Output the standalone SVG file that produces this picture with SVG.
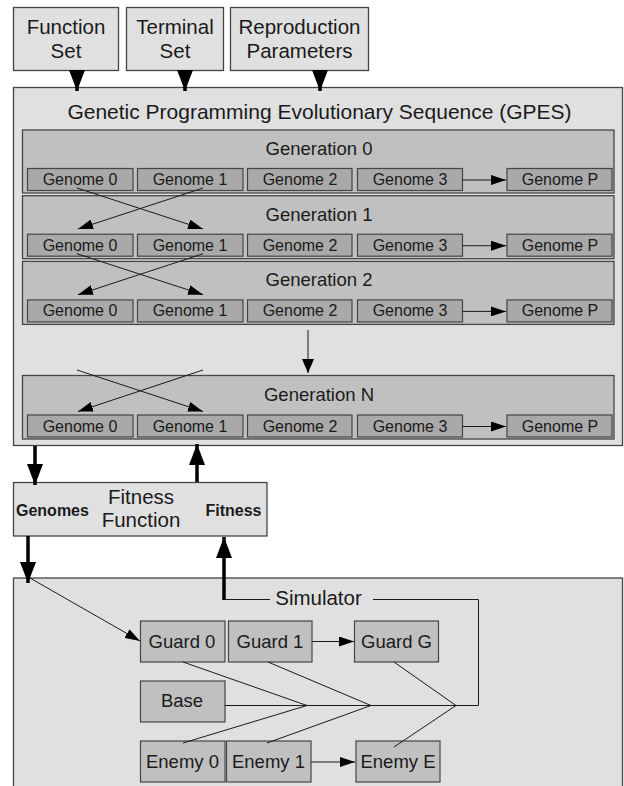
<svg xmlns="http://www.w3.org/2000/svg" width="624" height="786" viewBox="0 0 624 786">
<style>
text{font-family:"Liberation Sans",Arial,sans-serif;fill:#1a1a1a}
.big{font-size:20.5px;text-anchor:middle}
.title{font-size:21px;text-anchor:middle}
.gen{font-size:18.5px;text-anchor:middle}
.gn{font-size:16px;text-anchor:middle}
.bx{font-size:18.5px;text-anchor:middle}
.bold{font-size:16px;font-weight:bold}
.outer{fill:#e0e0e0;stroke:#454545;stroke-width:1.3}
.genbox{fill:#c0c0c0;stroke:#454545;stroke-width:1.3}
.gnbox{fill:#a9a9a9;stroke:#454545;stroke-width:1.2}
.node{fill:#c0c0c0;stroke:#454545;stroke-width:1.2}
.thin{stroke:#1a1a1a;stroke-width:1;fill:none}
.thick{stroke:#000;stroke-width:3.5;fill:none}
</style>
<defs>
<marker id="sa" markerUnits="userSpaceOnUse" markerWidth="16" markerHeight="10" refX="15" refY="5" orient="auto"><path d="M0,0 L15,5 L0,10 z" fill="#000"/></marker>
<marker id="ba" markerUnits="userSpaceOnUse" markerWidth="22" markerHeight="16" refX="21" refY="8" orient="auto"><path d="M0,0 L21,8 L0,16 z" fill="#000"/></marker>
<marker id="ma" markerUnits="userSpaceOnUse" markerWidth="15" markerHeight="12" refX="14" refY="6" orient="auto"><path d="M0,0 L14,6 L0,12 z" fill="#000"/></marker>
</defs>

<g id="function-set"><rect class="outer" x="13.5" y="7.5" width="105" height="63"/><text class="big" x="66" y="34">Function</text><text class="big" x="66" y="58">Set</text></g>
<g id="terminal-set"><rect class="outer" x="126.5" y="7.5" width="97" height="63"/><text class="big" x="175" y="34">Terminal</text><text class="big" x="175" y="58">Set</text></g>
<g id="reproduction-parameters"><rect class="outer" x="230.5" y="7.5" width="138" height="63"/><text class="big" x="299.5" y="34">Reproduction</text><text class="big" x="299.5" y="58">Parameters</text></g>

<g id="gpes">
<rect class="outer" x="13.5" y="87.5" width="609" height="358"/>
<text class="title" x="319.5" y="119">Genetic Programming Evolutionary Sequence (GPES)</text>
</g>

<g id="generation-0">
<rect class="genbox" x="22.5" y="130" width="591.5" height="63"/>
<text class="gen" x="319" y="155">Generation 0</text>
<rect class="gnbox" x="27.5" y="168.5" width="105.5" height="22"/><text class="gn" x="80" y="185">Genome 0</text>
<rect class="gnbox" x="137.5" y="168.5" width="105.5" height="22"/><text class="gn" x="190" y="185">Genome 1</text>
<rect class="gnbox" x="247.5" y="168.5" width="104.5" height="22"/><text class="gn" x="300" y="185">Genome 2</text>
<rect class="gnbox" x="357.5" y="168.5" width="105" height="22"/><text class="gn" x="410" y="185">Genome 3</text>
<rect class="gnbox" x="507" y="168.5" width="105" height="22"/><text class="gn" x="560" y="185">Genome P</text>
</g>
<g id="generation-1">
<rect class="genbox" x="22.5" y="195.7" width="591.5" height="63"/>
<text class="gen" x="319" y="220.7">Generation 1</text>
<rect class="gnbox" x="27.5" y="234.2" width="105.5" height="22"/><text class="gn" x="80" y="250.7">Genome 0</text>
<rect class="gnbox" x="137.5" y="234.2" width="105.5" height="22"/><text class="gn" x="190" y="250.7">Genome 1</text>
<rect class="gnbox" x="247.5" y="234.2" width="104.5" height="22"/><text class="gn" x="300" y="250.7">Genome 2</text>
<rect class="gnbox" x="357.5" y="234.2" width="105" height="22"/><text class="gn" x="410" y="250.7">Genome 3</text>
<rect class="gnbox" x="507" y="234.2" width="105" height="22"/><text class="gn" x="560" y="250.7">Genome P</text>
</g>
<g id="generation-2">
<rect class="genbox" x="22.5" y="261.4" width="591.5" height="63"/>
<text class="gen" x="319" y="286.4">Generation 2</text>
<rect class="gnbox" x="27.5" y="299.9" width="105.5" height="22"/><text class="gn" x="80" y="316.4">Genome 0</text>
<rect class="gnbox" x="137.5" y="299.9" width="105.5" height="22"/><text class="gn" x="190" y="316.4">Genome 1</text>
<rect class="gnbox" x="247.5" y="299.9" width="104.5" height="22"/><text class="gn" x="300" y="316.4">Genome 2</text>
<rect class="gnbox" x="357.5" y="299.9" width="105" height="22"/><text class="gn" x="410" y="316.4">Genome 3</text>
<rect class="gnbox" x="507" y="299.9" width="105" height="22"/><text class="gn" x="560" y="316.4">Genome P</text>
</g>
<g id="generation-n">
<rect class="genbox" x="22.5" y="375.5" width="591.5" height="63.5"/>
<text class="gen" x="319" y="401">Generation N</text>
<rect class="gnbox" x="27.5" y="415" width="105.5" height="22"/><text class="gn" x="80" y="431.5">Genome 0</text>
<rect class="gnbox" x="137.5" y="415" width="105.5" height="22"/><text class="gn" x="190" y="431.5">Genome 1</text>
<rect class="gnbox" x="247.5" y="415" width="104.5" height="22"/><text class="gn" x="300" y="431.5">Genome 2</text>
<rect class="gnbox" x="357.5" y="415" width="105" height="22"/><text class="gn" x="410" y="431.5">Genome 3</text>
<rect class="gnbox" x="507" y="415" width="105" height="22"/><text class="gn" x="560" y="431.5">Genome P</text>
</g>

<g id="fitness-function">
<rect class="outer" x="13.5" y="482.5" width="253.5" height="53.5"/>
<text class="big" x="141" y="504">Fitness</text>
<text class="big" x="141" y="527">Function</text>
<text class="bold" x="16" y="516">Genomes</text>
<text class="bold" x="205.5" y="516">Fitness</text>
</g>

<g id="simulator">
<rect class="outer" x="13.5" y="578" width="609" height="220"/>
<text class="big" x="318.5" y="605">Simulator</text>
</g>
<g id="guard-0"><rect class="node" x="140.5" y="621" width="84.5" height="41"/><text class="bx" x="182" y="647.5">Guard 0</text></g>
<g id="guard-1"><rect class="node" x="228.5" y="621" width="83.5" height="41"/><text class="bx" x="270" y="647.5">Guard 1</text></g>
<g id="guard-g"><rect class="node" x="354.5" y="621" width="84" height="41"/><text class="bx" x="396.5" y="647.5">Guard G</text></g>
<g id="base"><rect class="node" x="140.5" y="681" width="84.5" height="41"/><text class="bx" x="182" y="707">Base</text></g>
<g id="enemy-0"><rect class="node" x="140.5" y="741" width="84.5" height="41"/><text class="bx" x="182.5" y="767.5">Enemy 0</text></g>
<g id="enemy-1"><rect class="node" x="226.5" y="741" width="84.5" height="41"/><text class="bx" x="268.5" y="767.5">Enemy 1</text></g>
<g id="enemy-e"><rect class="node" x="356" y="741" width="84" height="41"/><text class="bx" x="398" y="767.5">Enemy E</text></g>

<g id="connectors">
<!-- inputs to GPES -->
<line class="thick" x1="77" y1="70" x2="77" y2="91" marker-end="url(#ba)"/>
<line class="thick" x1="185" y1="70" x2="185" y2="91" marker-end="url(#ba)"/>
<line class="thick" x1="320" y1="70" x2="320" y2="91" marker-end="url(#ba)"/>
<!-- crossover 0->1 -->
<line class="thin" x1="77" y1="188" x2="203" y2="229" marker-end="url(#sa)"/>
<line class="thin" x1="203" y1="188" x2="78" y2="229" marker-end="url(#sa)"/>
<!-- crossover 1->2 -->
<line class="thin" x1="77" y1="253.7" x2="203" y2="294.7" marker-end="url(#sa)"/>
<line class="thin" x1="203" y1="253.7" x2="78" y2="294.7" marker-end="url(#sa)"/>
<!-- crossover into N -->
<line class="thin" x1="77" y1="370" x2="203" y2="411.5" marker-end="url(#sa)"/>
<line class="thin" x1="203" y1="370" x2="78" y2="411.5" marker-end="url(#sa)"/>
<!-- Genome 3 -> Genome P -->
<line class="thin" x1="462.5" y1="180" x2="506" y2="180" marker-end="url(#sa)"/>
<line class="thin" x1="462.5" y1="245.7" x2="506" y2="245.7" marker-end="url(#sa)"/>
<line class="thin" x1="462.5" y1="311.4" x2="506" y2="311.4" marker-end="url(#sa)"/>
<line class="thin" x1="462.5" y1="426.5" x2="506" y2="426.5" marker-end="url(#sa)"/>
<!-- Gen 2 -> Gen N -->
<line class="thin" x1="308" y1="330" x2="308" y2="373" marker-end="url(#ma)"/>
<!-- GPES <-> Fitness -->
<line class="thick" x1="35" y1="446" x2="35" y2="485" marker-end="url(#ba)"/>
<line class="thick" x1="197" y1="482" x2="197" y2="444" marker-end="url(#ba)"/>
<!-- Fitness <-> Simulator -->
<line class="thick" x1="28" y1="536" x2="28" y2="583" marker-end="url(#ba)"/>
<path class="thick" d="M224,600 L224,537" marker-end="url(#ba)"/>
<line class="thin" x1="224" y1="599.5" x2="270" y2="599.5"/>
<!-- simulator internal -->
<line class="thin" x1="30" y1="578" x2="140" y2="641" marker-end="url(#sa)"/>
<polyline class="thin" points="373,599.5 478.5,599.5 478.5,705.5 225,705.5"/>
<line class="thin" x1="312" y1="641.5" x2="354" y2="641.5" marker-end="url(#sa)"/>
<line class="thin" x1="311" y1="762" x2="355" y2="762" marker-end="url(#sa)"/>
<polyline class="thin" points="183,662 307,705.5 183,743"/>
<polyline class="thin" points="268,662 371,705.5 267,743"/>
<polyline class="thin" points="394,662 456,705.5 394,747"/>
</g>
</svg>
